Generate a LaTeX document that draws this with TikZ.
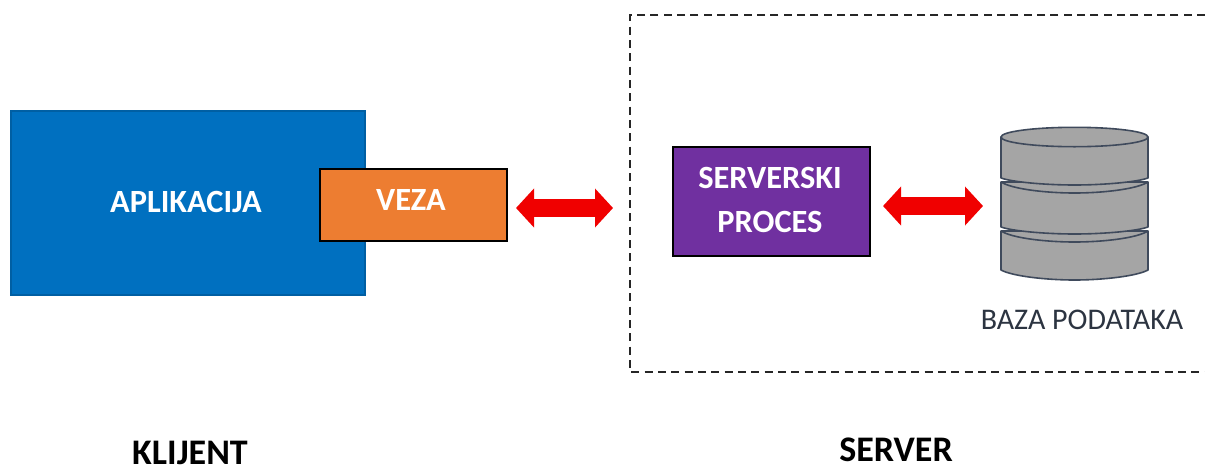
\documentclass[tikz,border=0pt]{standalone}
\usepackage{fontspec}
\setmainfont{Carlito}
\usetikzlibrary{arrows.meta}
\definecolor{blueb}{HTML}{0070C0}
\definecolor{orangeb}{HTML}{ED7D31}
\definecolor{purpleb}{HTML}{7030A0}
\definecolor{grayb}{HTML}{A5A5A5}
\definecolor{edgeb}{HTML}{3F4A5C}
\definecolor{redb}{HTML}{F00000}
\newcommand{\pxfont}[1]{\fontsize{#1}{#1}\selectfont}
\tikzset{
  x=0.75pt,y=-0.75pt,
  boxb/.style={draw=black,line width=1.2pt,inner sep=0pt,outer sep=0pt},
  boxtext/.style={text=white,font=\pxfont{24.3}\bfseries,inner sep=0pt},
  title/.style={text=black,font=\pxfont{27}\bfseries,inner sep=0pt},
  bigarrow/.style={line width=13.5pt,color=redb,{Triangle[length=13.5pt,width=28.5pt]}-{Triangle[length=13.5pt,width=28.5pt]}},
  disc/.style={fill=grayb,draw=edgeb,line width=1.2pt,line join=round},
  discline/.style={draw=edgeb,line width=1.2pt}
}
\begin{document}
\begin{tikzpicture}
\useasboundingbox (0,0) rectangle (1205,468);
\fill[white] (0,0) rectangle (1205,468);
% server frame, open on the right
\draw[line width=0.9pt,black!85,dash pattern=on 6pt off 4pt] (1205,15) -- (630,15) -- (630,372) -- (1205,372);
% client
\node[boxb,fill=blueb,draw=blueb!85!black,line width=0.8pt,minimum width=265.5pt,minimum height=138pt,anchor=north west] (app) at (11,111) {};
\node[boxtext] (applabel) at (186,202) {APLIKACIJA};
\node[boxb,fill=orangeb,minimum width=140.25pt,minimum height=54pt,anchor=north west] (veza) at (320,169) {};
\node[boxtext] (vezalabel) at (411,200) {VEZA};
% server process
\node[boxb,fill=purpleb,minimum width=147.75pt,minimum height=81.75pt,anchor=north west] (proc) at (673,147) {};
\node[boxtext] (proc1) at (770,178) {SERVERSKI};
\node[boxtext] (proc2) at (770,222) {PROCES};
% database cylinder
\draw[disc] (1001,231) -- (1001,270) .. controls (1012,276) and (1045,280) .. (1074.5,280) .. controls (1104,280) and (1137,276) .. (1148,270) -- (1148,231) -- cycle;
\draw[discline] (1001,231) .. controls (1012,238) and (1045,242) .. (1074.5,242) .. controls (1104,242) and (1137,238) .. (1148,231);
\draw[disc] (1001,182) -- (1001,227) .. controls (1012,231) and (1045,234) .. (1074.5,234) .. controls (1104,234) and (1137,231) .. (1148,227) -- (1148,182) -- cycle;
\draw[discline] (1001,182) .. controls (1012,189) and (1045,193) .. (1074.5,193) .. controls (1104,193) and (1137,189) .. (1148,182);
\draw[disc] (1001,137) -- (1001,178) .. controls (1012,182) and (1045,185) .. (1074.5,185) .. controls (1104,185) and (1137,182) .. (1148,178) -- (1148,137) -- cycle;
\draw[disc] (1074.5,137) ellipse (73.5 and 9.7);
\coordinate (db) at (983,206);
\coordinate (clientend) at (516,208);
\coordinate (serverend) at (613,208);
\coordinate (procend) at (883,206);
% arrows
\draw[bigarrow] (clientend) -- (serverend);
\draw[bigarrow] (procend) -- (db);
% labels
\node[text=edgeb!70!black,font=\pxfont{22.5},inner sep=0pt] (dblabel) at (1082,320) {BAZA PODATAKA};
\node[title] (klijent) at (190,453) {KLIJENT};
\node[title] (server) at (896,450) {SERVER};
\end{tikzpicture}
\end{document}
